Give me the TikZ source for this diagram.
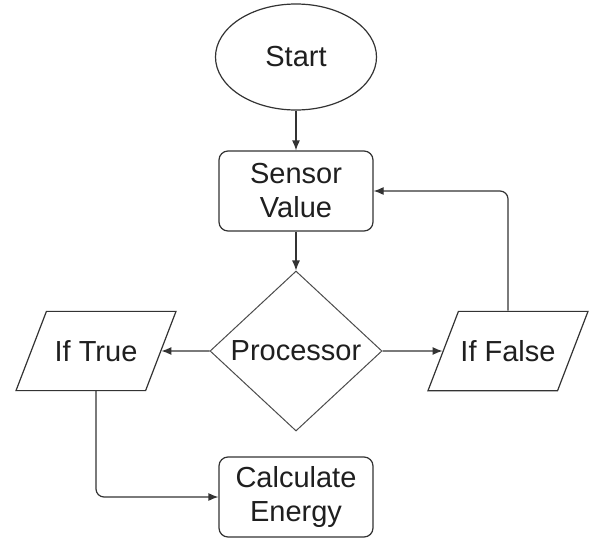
\documentclass[tikz,border=0pt]{standalone}
\usepackage{fontspec}
\setmainfont{Liberation Sans}
\usetikzlibrary{shapes.geometric, arrows.meta}

\begin{document}
\begin{tikzpicture}[>={Latex[length=10pt, width=8pt]}, x=1pt, y=1pt]
        \tikzstyle{every node} = [font=\fontsize{29}{34}\selectfont, text=black!88]
        \tikzstyle{terminal} = [draw=black!80, fill=white, ellipse, line width=1.2pt,
            minimum width=161pt, minimum height=106pt, inner sep=0pt]
        \tikzstyle{process} = [draw=black!80, fill=white, rectangle, rounded corners=9pt,
            line width=1.2pt, minimum height=80pt, minimum width=154pt, align=center]
        \tikzstyle{decision} = [draw=black!70, fill=white, diamond, aspect=1.075,
            line width=1pt, minimum height=160pt, minimum width=172pt, inner sep=0pt]
        \tikzstyle{io} = [draw=black!80, fill=white, trapezium, trapezium left angle=69,
            trapezium right angle=111, trapezium stretches body=true, line width=1.2pt,
            inner ysep=29pt, inner xsep=0pt, minimum width=160pt]
        \tikzstyle{flowEdge} = [draw=black!80, line width=1.2pt, ->];
        \fill[white] (0,0) rectangle (589,-538);
        \useasboundingbox (0,0) rectangle (589,-538);
        \node[terminal] (nodeStart) at (296,-57) {Start};
        \node[process, below of=nodeStart, node distance=134pt] (nodeSensor) {Sensor\\Value};
        \node[decision, below of=nodeSensor, node distance=160pt] (nodeProc) {Processor};
        \node[io, left of=nodeProc, node distance=200pt] (nodeTrue) {If True};
        \node[io, right of=nodeProc, node distance=212pt] (nodeFalse) {If False};
        \node[process, below of=nodeProc, node distance=146pt] (nodeCalc) {Calculate\\Energy};

        \draw (nodeStart) edge[flowEdge] (nodeSensor);
        \draw (nodeSensor) edge[flowEdge] (nodeProc);
        \draw (nodeProc) edge[flowEdge] (nodeTrue);
        \draw (nodeProc) edge[flowEdge] (nodeFalse);
        % side branches turn the corner with rounded bends
        \draw[flowEdge, rounded corners=8pt] (nodeTrue.south) |- (nodeCalc.west);
        \draw[flowEdge, rounded corners=8pt] (nodeFalse.north) |- (nodeSensor.east);
    \end{tikzpicture}
\end{document}
